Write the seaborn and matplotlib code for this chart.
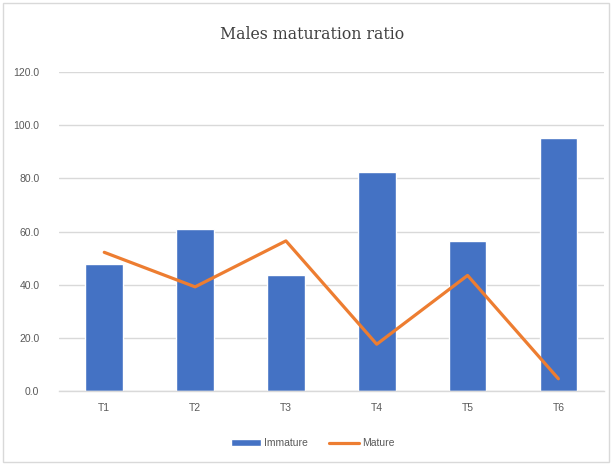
import matplotlib
matplotlib.use("Agg")
import matplotlib.pyplot as plt
import seaborn as sns
import pandas as pd
from matplotlib.patches import Rectangle

categories = ["T1", "T2", "T3", "T4", "T5", "T6"]
immature = [47.8, 60.8, 43.5, 82.4, 56.5, 95.4]
mature = [52.2, 39.2, 56.5, 17.6, 43.5, 4.6]
yticks = [0, 20, 40, 60, 80, 100, 120]

df = pd.DataFrame({"group": categories, "Immature": immature, "Mature": mature})

sns.set_theme(style="white")
plt.rcParams["font.family"] = ["Liberation Sans", "DejaVu Sans"]

fig = plt.figure(figsize=(6.13, 4.66), dpi=100)
ax = fig.add_axes([0.096, 0.161, 0.889, 0.684])

blue = "#4472C4"
orange = "#ED7D31"

sns.barplot(data=df, x="group", y="Immature", color=blue, width=0.415,
            saturation=1, ax=ax, label="Immature", zorder=2)
sns.lineplot(x=list(range(len(categories))), y=df["Mature"], color=orange,
             linewidth=2.3, ax=ax, label="Mature", zorder=3)

ax.set_ylim(0, 120)
ax.set_xlim(-0.5, len(categories) - 0.5)
ax.set_yticks(yticks)
ax.set_yticklabels([f"{v:.1f}" for v in yticks])
ax.set_xticks(range(len(categories)))
ax.set_xticklabels(categories)
ax.set_xlabel("")
ax.set_ylabel("")
ax.yaxis.grid(True, color="#D9D9D9", linewidth=1, zorder=0)
ax.set_axisbelow(True)
for side in ["top", "right", "left"]:
    ax.spines[side].set_visible(False)
ax.spines["bottom"].set_color("#D9D9D9")
ax.spines["bottom"].set_linewidth(1)
ax.tick_params(axis="both", length=0, labelsize=7.5, labelcolor="#595959")
ax.tick_params(axis="y", pad=14)
ax.tick_params(axis="x", pad=9)

fig.text(0.509, 0.925, "Males maturation ratio", ha="center", va="center",
         fontsize=11.3, color="#404040", family=["DejaVu Serif"])

handles, labels = ax.get_legend_handles_labels()
order = [labels.index("Immature"), labels.index("Mature")]
leg = fig.legend([handles[i] for i in order], [labels[i] for i in order],
                 loc="center", bbox_to_anchor=(0.51, 0.049), ncol=2, frameon=False,
                 fontsize=7.5, handlelength=2.9, handleheight=0.6, columnspacing=2.0,
                 handletextpad=0.3)
for t in leg.get_texts():
    t.set_color("#595959")
if ax.get_legend() is not None:
    ax.get_legend().remove()

fig.patches.append(Rectangle((0.005, 0.008), 0.989, 0.985, transform=fig.transFigure,
                             fill=False, edgecolor="#D9D9D9", linewidth=1))

fig.savefig("out.png", dpi=100)
